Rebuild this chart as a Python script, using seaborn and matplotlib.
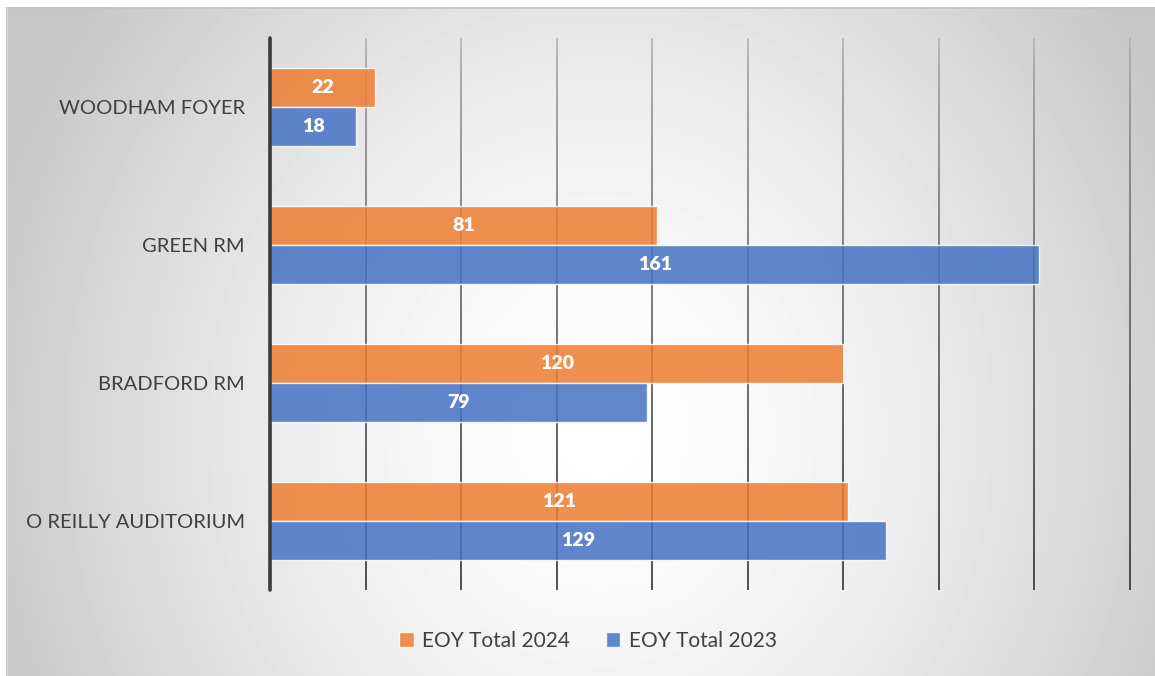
import numpy as np
import pandas as pd
import matplotlib
matplotlib.use("Agg")
import matplotlib.pyplot as plt
from matplotlib.collections import LineCollection
import seaborn as sns

venues = ["WOODHAM FOYER", "GREEN RM", "BRADFORD RM", "O REILLY AUDITORIUM"]
series = ["EOY Total 2024", "EOY Total 2023"]
total_2024 = [22, 81, 120, 121]
total_2023 = [18, 161, 79, 129]
x_ticks = [0, 20, 40, 60, 80, 100, 120, 140, 160, 180]

df = pd.DataFrame({
    "venue": venues * 2,
    "series": [series[0]] * 4 + [series[1]] * 4,
    "value": total_2024 + total_2023,
})

sns.set_theme(style="white")
plt.rcParams["font.family"] = ["Lato", "DejaVu Sans"]

W, H = 1155, 676
fig = plt.figure(figsize=(W / 100, H / 100), dpi=100)
fig.patch.set_facecolor("white")

# background gradient panel
bg = fig.add_axes([6 / W, 0, 1 - 6 / W, (H - 7) / H], zorder=-10)
yy, xx = np.mgrid[7:H, 6:W]
d = np.sqrt(((xx - 600) / 640) ** 2 + ((yy - 430) / 700) ** 2)
v = 1 - 0.22 * np.clip(d, 0, 1) ** 1.5
bg.imshow(v, cmap="gray", vmin=0, vmax=1, aspect="auto", interpolation="bilinear")
bg.set_axis_off()
fig.add_artist(plt.Line2D([6 / W, 1], [(H - 7.5) / H] * 2, color="#c4c4c4", lw=1.2))
fig.add_artist(plt.Line2D([6.5 / W] * 2, [0, (H - 7) / H], color="#d8d8d8", lw=0.8))

ax = fig.add_axes([270 / W, 1 - 590 / H, (1130 - 270) / W, (590 - 38) / H])
ax.patch.set_alpha(0)

sns.barplot(data=df, y="venue", x="value", hue="series", hue_order=series,
            order=venues, orient="h", palette=["#ED7D31", "#4472C4"],
            width=0.56, alpha=0.85, saturation=1, ax=ax, zorder=3)

for p in ax.patches:
    p.set_edgecolor((1, 1, 1, 0.45))
    p.set_linewidth(1.0)

for cont in ax.containers:
    ax.bar_label(cont, label_type="center", color="white", fontsize=14,
                 fontweight="heavy", zorder=5)

ax.set_xlim(0, 180)
ax.set_ylim(3.5, -0.5)
ax.set_xticks(x_ticks)
ax.set_xticklabels([])
ax.tick_params(axis="x", length=0)
ax.tick_params(axis="y", length=0, pad=18, labelsize=14.5, labelcolor="#404040")
ax.set_xlabel("")
ax.set_ylabel("")
for s in ax.spines.values():
    s.set_visible(False)

# gradient gridlines (light at top, dark at bottom)
n = 60
ys = np.linspace(-0.5, 3.5, n + 1)
segs, cols = [], []
for xv in x_ticks[1:]:
    for i in range(n):
        f = (i + 0.5) / n
        g = 0.72 - (0.72 - 0.13) * f ** 0.6
        segs.append([(xv, ys[i]), (xv, ys[i + 1])])
        cols.append((g, g, g))
ax.add_collection(LineCollection(segs, colors=cols, linewidths=1.1, zorder=1,
                                 clip_on=False))
ax.axvline(0, color="#3a3a3a", lw=2.6, zorder=6, clip_on=False)

handles, labels = ax.get_legend_handles_labels()
ax.legend_.remove()
fig.legend(handles, labels, loc="center", bbox_to_anchor=(588 / W, 1 - 641 / H),
           ncol=2, frameon=False, prop={"family": ["Lato", "DejaVu Sans"], "size": 15},
           labelcolor="#404040",
           handlelength=0.7, handleheight=0.7, handletextpad=0.4,
           columnspacing=1.7)

fig.savefig("out.png", dpi=100)
